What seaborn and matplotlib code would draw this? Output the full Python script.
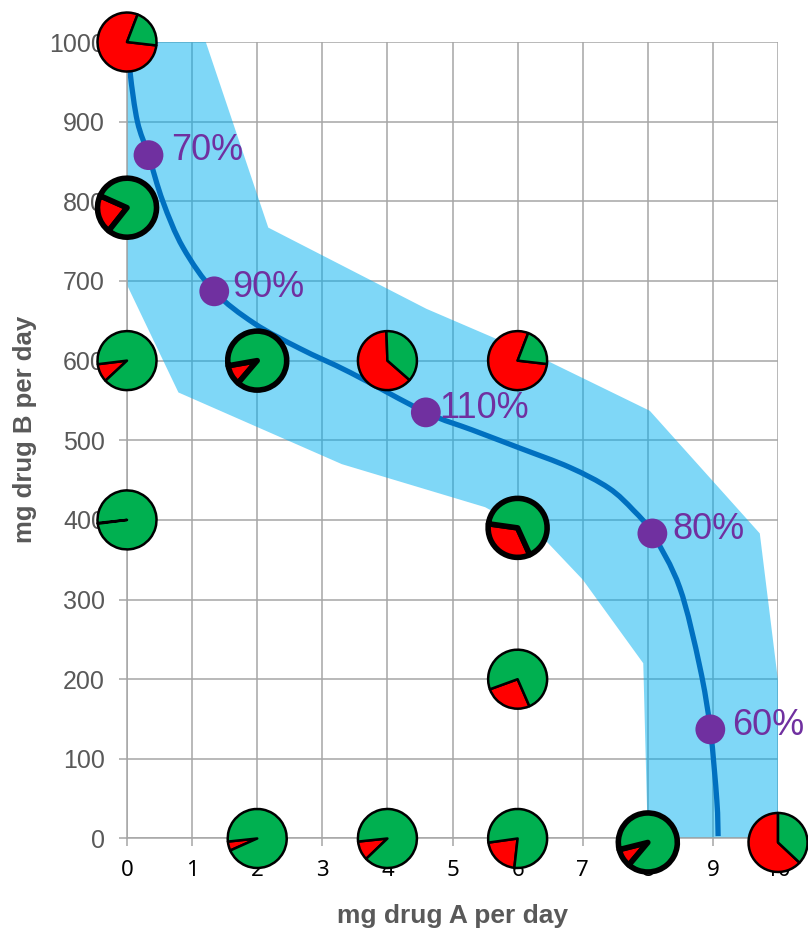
import matplotlib
matplotlib.use("Agg")
import matplotlib.pyplot as plt
import seaborn as sns
import pandas as pd
from matplotlib.patches import Wedge, PathPatch
from matplotlib.path import Path
from matplotlib.transforms import ScaledTranslation

# Isobole of equal response (mg drug A vs mg drug B)
curve_a = [0.02, 0.05, 0.16, 0.33, 0.55, 0.86, 1.34, 1.95, 2.66, 3.43, 4.59, 5.30,
           6.04, 6.80, 7.40, 7.78, 8.07, 8.49, 8.80, 8.96, 9.06, 9.08]
curve_b = [1000, 960, 900, 858, 800, 742, 687, 647, 615, 585, 535, 513,
           490, 466, 440, 412, 383, 315, 215, 137, 48, 3]

# Confidence band outline (upper edge left->right, then lower edge right->left)
band_a = [0, 1.21, 2.17, 4.6, 6.45, 8.03, 9.72, 10, 10, 8.0, 7.93, 7.0, 6.42,
          5.5, 3.3, 0.79, 0]
band_b = [1000, 1000, 767, 665, 600, 537, 383, 198, 0, 0, 220, 325, 375,
          416, 470, 560, 695]

# Measured responses on the isobole
resp_a = [0.33, 1.34, 4.59, 8.07, 8.96]
resp_b = [858, 687, 535, 383, 137]
resp_labels = ["70%", "90%", "110%", "80%", "60%"]

# Dose combinations tested: share of patients with adverse events (red)
pie_a = [0, 0, 0, 0, 2, 4, 6, 6, 6, 6, 2, 4, 8, 10]
pie_b = [1000, 792, 600, 400, 600, 600, 600, 390, 200, 0, 0, 0, -5, -5]
pie_red = [0.79, 0.21, 0.10, 0.004, 0.11, 0.63, 0.79, 0.34, 0.26, 0.21, 0.05,
           0.105, 0.10, 0.63]
pie_start = [69, 156, 187, 186, 190, 92, 69, 172, 200, 188, 186, 186, 194, 90]
pie_bold = [False, True, False, False, True, False, False, True, False, False,
            False, False, True, False]

sns.set_style("white")
plt.rcParams["font.family"] = ["Liberation Sans", "DejaVu Sans"]

fig = plt.figure(figsize=(8.08, 9.30), dpi=100)
ax = fig.add_axes([0.1572, 0.0984, 0.8057, 0.8564])

grid_c = "#A6A6A6"
ax.set_xlim(0, 10)
ax.set_ylim(0, 1000)
ax.set_xticks(range(0, 11))
ax.set_yticks(range(0, 1001, 100))
ax.set_axisbelow(True)
ax.grid(True, color=grid_c, linewidth=1.1)
for side in ("top", "right"):
    ax.spines[side].set_visible(False)
for side in ("left", "bottom"):
    ax.spines[side].set_color(grid_c)
    ax.spines[side].set_linewidth(1.1)

ax.tick_params(axis="both", direction="out", length=5.8, width=1.1, color=grid_c,
               left=True, bottom=True)
ax.tick_params(axis="y", labelsize=18, labelcolor="#595959", pad=10)
ax.tick_params(axis="x", labelsize=16, labelcolor="black", pad=10)
for lab in ax.get_xticklabels():
    lab.set_family("Noto Sans")

# band
ax.fill(band_a, band_b, color="#00B0F0", alpha=0.5, linewidth=0, zorder=1)


def smooth_path(xs, ys):
    """Cubic Bezier path through the points (Catmull-Rom style smoothing)."""
    pts = list(zip(xs, ys))
    n = len(pts)
    verts = [pts[0]]
    codes = [Path.MOVETO]
    for i in range(n - 1):
        p0 = pts[max(i - 1, 0)]
        p1 = pts[i]
        p2 = pts[i + 1]
        p3 = pts[min(i + 2, n - 1)]
        c1 = (p1[0] + (p2[0] - p0[0]) / 6, p1[1] + (p2[1] - p0[1]) / 6)
        c2 = (p2[0] - (p3[0] - p1[0]) / 6, p2[1] - (p3[1] - p1[1]) / 6)
        verts += [c1, c2, p2]
        codes += [Path.CURVE4] * 3
    return Path(verts, codes)


# isobole line, smoothed through the read points
ax.add_patch(PathPatch(smooth_path(curve_a, curve_b), facecolor="none",
                       edgecolor="#0070C0", linewidth=3.8, capstyle="butt",
                       zorder=2))

# responses
resp = pd.DataFrame({"a": resp_a, "b": resp_b})
sns.scatterplot(data=resp, x="a", y="b", s=460, color="#7030A0", edgecolor="none",
                ax=ax, zorder=3)
label_dx = [16, 13, 10, 14.5, 16]
for a, b, t, dx in zip(resp_a, resp_b, resp_labels, label_dx):
    ax.annotate(t, (a, b), xytext=(dx, 3), textcoords="offset points",
                fontsize=26, color="#7030A0", ha="left", va="center", zorder=3)

# pies
radius = 0.295  # inches
for a, b, red, start, bold in zip(pie_a, pie_b, pie_red, pie_start, pie_bold):
    tr = fig.dpi_scale_trans + ScaledTranslation(a, b, ax.transData)
    lw = 4.0 if bold else 1.8
    mid = start + red * 360
    for t1, t2, col in ((start, mid, "#FF0000"), (mid, start + 360, "#00B050")):
        w = Wedge((0, 0), radius, t1, t2, facecolor=col, edgecolor="black",
                  linewidth=lw, joinstyle="round", transform=tr, clip_on=False,
                  zorder=5)
        ax.add_patch(w)

ax.set_xlabel("mg drug A per day", fontsize=19, fontweight="bold", color="#595959",
              va="center")
ax.xaxis.set_label_coords(0.5, -0.097)
ax.set_ylabel("mg drug B per day", fontsize=18.5, fontweight="bold", color="#595959",
              va="center")
ax.yaxis.set_label_coords(-0.157, 0.514)

fig.savefig("out.png", dpi=100)
